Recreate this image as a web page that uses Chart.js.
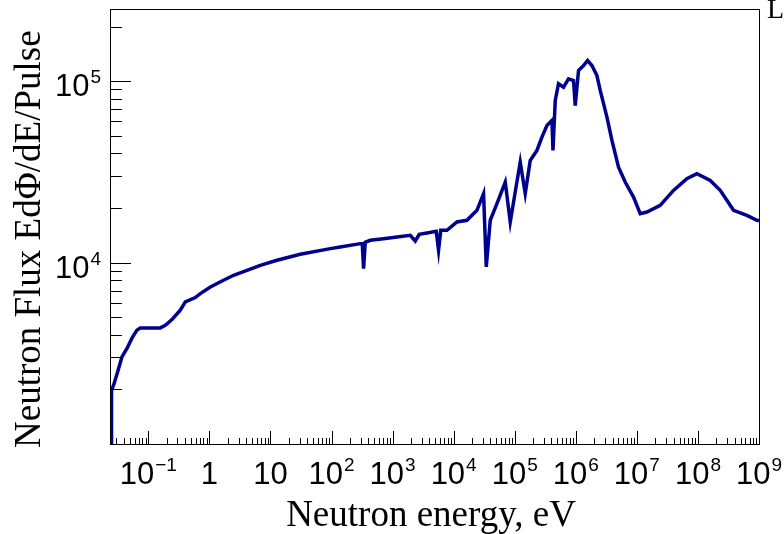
<!DOCTYPE html>
<html>
<head>
<meta charset="utf-8">
<script src="https://cdn.jsdelivr.net/npm/chart.js@4.4.1/dist/chart.umd.min.js"></script>
<style>
  html, body { margin: 0; padding: 0; background: #fff; }
  #wrap { width: 784px; height: 534px; }
</style>
</head>
<body>
<div id="wrap"><canvas id="flux-chart" width="784" height="534"></canvas></div>
<script>
// neutron energy (eV) and flux E dPhi/dE per pulse
const energy = [
  0.025, 0.025, 0.027, 0.031, 0.037, 0.045, 0.054, 0.065, 0.074, 0.157,
  0.19, 0.244, 0.334, 0.404, 0.588, 0.71, 1.04, 1.61, 2.49, 4.13,
  6.82, 12.8, 30.8, 95.5, 139, 296, 319, 335, 357, 431,
  712, 1180, 1946, 2350, 2735, 3655, 5190, 5660, 6150, 7760,
  11320, 16500, 24060, 30900, 34200, 39750, 51160, 69980, 84500, 1.019e5,
  1.231e5, 1.486e5, 1.795e5, 2.31e5, 2.79e5, 3.37e5, 4.07e5, 4.23e5, 4.61e5, 5.21e5,
  6.30e5, 7.60e5, 9.18e5, 9.79e5, 1.109e6, 1.34e6, 1.56e6, 1.837e6, 2.218e6, 2.512e6,
  3.236e6, 3.908e6, 5.01e6, 6.44e6, 8.81e6, 1.135e7, 1.462e7, 2.41e7, 3.98e7, 6.59e7,
  9.62e7, 1.589e8, 2.317e8, 3.83e8, 6.34e8, 9.25e8, 1e9
];
const flux = [
  1000, 1980, 2110, 2455, 3020, 3375, 3830, 4240, 4365, 4365,
  4515, 4855, 5460, 6070, 6415, 6750, 7340, 7920, 8515, 9070,
  9660, 10300, 11110, 11940, 12190, 12720, 12700, 9270, 12940, 13270,
  13550, 13840, 14130, 13150, 14320, 14550, 14870, 11690, 15070, 15070,
  16740, 17110, 19420, 23990, 9460, 17110, 21120, 27790, 16740, 24490,
  35810, 23990, 36560, 41500, 49220, 57000, 60760, 41500, 78340, 96800,
  92670, 103100, 100900, 73440, 114600, 122000, 130000, 122000, 107400, 88900,
  63400, 47160, 33600, 27790, 22960, 18620, 18990, 20680, 25010, 29010,
  30910, 28380, 25010, 19420, 18220, 17110, 17000
];

// tick labels: base + superscript
const xTickValues = [0.1, 1, 10, 1e2, 1e3, 1e4, 1e5, 1e6, 1e7, 1e8, 1e9];
const xTickBase = ["10", "1", "10", "10", "10", "10", "10", "10", "10", "10", "10"];
const xTickExp = ["\u22121", "", "", "2", "3", "4", "5", "6", "7", "8", "9"];
const yTickValues = [1e4, 1e5];
const yTickBase = ["10", "10"];
const yTickExp = ["4", "5"];

const xTitle = "Neutron energy, eV";
const yTitle = "Neutron Flux Ed\u03A6/dE/Pulse";

const LABEL_FONT = "31px 'Liberation Sans', Arial, sans-serif";
const SUP_FONT = "19px 'Liberation Sans', Arial, sans-serif";
const TITLE_FONT = "37px 'Liberation Serif', 'Times New Roman', serif";

function labelWidth(ctx, base, exp) {
  ctx.font = LABEL_FONT;
  let w = ctx.measureText(base).width;
  if (exp) {
    ctx.font = SUP_FONT;
    w += ctx.measureText(exp).width + 1;
  }
  return w;
}

function drawLabel(ctx, base, exp, x, y) {
  // x = left edge, y = baseline
  ctx.font = LABEL_FONT;
  ctx.fillText(base, x, y);
  if (exp) {
    const bw = ctx.measureText(base).width;
    ctx.font = SUP_FONT;
    ctx.fillText(exp, x + bw + 1, y - 13);
  }
}

// ROOT-like frame, inward ticks and labels
const rootFrame = {
  id: "rootFrame",
  afterDraw(chart) {
    const ctx = chart.ctx;
    const { left, right, top, bottom } = chart.chartArea;
    const xs = chart.scales.x;
    const ys = chart.scales.y;
    ctx.save();
    ctx.strokeStyle = "#000";
    ctx.lineWidth = 1;
    ctx.strokeRect(left - 0.5, top + 0.5, right - left + 1, bottom - top);

    ctx.beginPath();
    // x ticks
    for (let n = -2; n <= 9; n++) {
      for (let k = 1; k <= 9; k++) {
        const v = k * Math.pow(10, n);
        if (v < xs.min || v > xs.max) continue;
        const px = Math.round(xs.getPixelForValue(v)) + 0.5;
        const len = k === 1 ? 13 : 6;
        ctx.moveTo(px, bottom);
        ctx.lineTo(px, bottom - len);
      }
    }
    // y ticks
    for (let n = 3; n <= 5; n++) {
      for (let k = 1; k <= 9; k++) {
        const v = k * Math.pow(10, n);
        if (v <= ys.min || v > ys.max) continue;
        const py = Math.round(ys.getPixelForValue(v)) + 0.5;
        const len = k === 1 ? 20 : 11;
        ctx.moveTo(left, py);
        ctx.lineTo(left + len, py);
      }
    }
    ctx.stroke();

    ctx.fillStyle = "#000";
    ctx.textAlign = "left";
    ctx.textBaseline = "alphabetic";
    xTickValues.forEach((v, i) => {
      const px = xs.getPixelForValue(v);
      const w = labelWidth(ctx, xTickBase[i], xTickExp[i]);
      drawLabel(ctx, xTickBase[i], xTickExp[i], px - w / 2, 484);
    });
    yTickValues.forEach((v, i) => {
      const py = ys.getPixelForValue(v);
      const w = labelWidth(ctx, yTickBase[i], yTickExp[i]);
      drawLabel(ctx, yTickBase[i], yTickExp[i], 101 - w, py + 15);
    });

    ctx.font = TITLE_FONT;
    ctx.textAlign = "center";
    ctx.fillText(xTitle, 431, 526);

    ctx.save();
    ctx.translate(40, 448);
    ctx.rotate(-Math.PI / 2);
    ctx.textAlign = "left";
    ctx.fillText(yTitle, 0, 0);
    ctx.restore();

    // cut-off slide text at the top right
    ctx.font = "28px 'Liberation Serif', serif";
    ctx.textAlign = "left";
    ctx.fillText("L", 767, 18);
    ctx.restore();
  }
};

const fluxChart = new Chart(document.getElementById("flux-chart"), {
  type: "line",
  data: {
    datasets: [
      {
        data: energy.map((e, i) => ({ x: e, y: flux[i] })),
        borderColor: "#00008f",
        borderWidth: 3.5,
        pointRadius: 0,
        tension: 0,
        fill: false,
      },
    ],
  },
  options: {
    responsive: false,
    animation: false,
    devicePixelRatio: 1,
    layout: { padding: { left: 0, right: 25, top: 9, bottom: 0 } },
    plugins: { legend: { display: false }, tooltip: { enabled: false } },
    scales: {
      x: {
        type: "logarithmic",
        min: 0.0245,
        max: 1e9,
        grid: { display: false },
        border: { display: false },
        ticks: { display: false },
        afterFit: (scale) => { scale.height = 90; },
      },
      y: {
        type: "logarithmic",
        min: 1000,
        max: 2.5e5,
        grid: { display: false },
        border: { display: false },
        ticks: { display: false },
        afterFit: (scale) => { scale.width = 111; },
      },
    },
  },
  plugins: [rootFrame],
});
</script>
</body>
</html>
